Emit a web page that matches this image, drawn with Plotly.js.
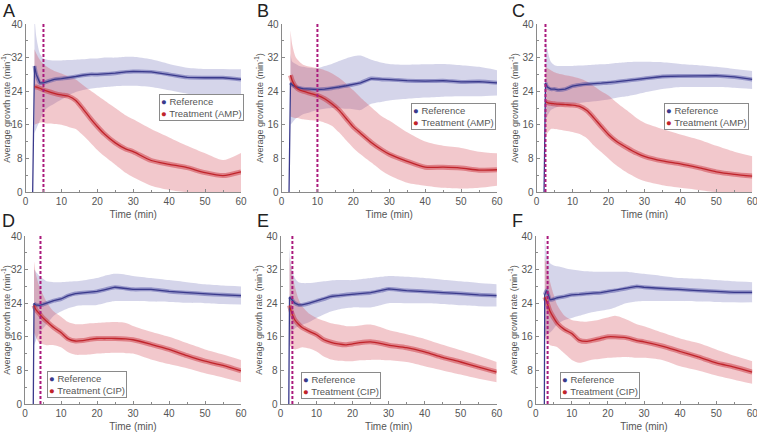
<!DOCTYPE html>
<html>
<head>
<meta charset="utf-8">
<script src="https://cdn.plot.ly/plotly-3.0.1.min.js"></script>
<style>html,body{margin:0;padding:0;background:#fff;}#chart{width:757px;height:433px;}</style>
</head>
<body>
<div id="chart"></div>
<script>
// ---- data ----
const T = [2.5, 3, 4, 5, 6, 8, 10, 12, 14, 16, 18, 20, 22, 25, 28, 30, 35, 40, 45, 50, 55, 60];
const panelLetters = ['A', 'B', 'C', 'D', 'E', 'F'];
const treatmentNames = ['Treatment (AMP)', 'Treatment (AMP)', 'Treatment (AMP)', 'Treatment (CIP)', 'Treatment (CIP)', 'Treatment (CIP)'];
const riseT = [2.0, 2.1, 2.1, 2.3, 2.3, 2.4];   // time where reference trace starts (from 0)
const dashT = [5, 10, 2.5, 4.3, 3.3, 3.3];     // treatment onset (dotted line)

const refMeanA = [30, 28, 26, 26, 26.3, 26.8, 27, 27.2, 27.5, 27.8, 28, 28, 28.1, 28.3, 28.6, 28.7, 28.6, 28, 27.3, 27.2, 27.2, 26.8];
const refHiA   = [42, 37, 33, 31.8, 31.5, 31.3, 31.3, 31.4, 31.5, 31.6, 31.8, 31.8, 32, 32, 32.2, 32.2, 31.6, 30.5, 29.6, 29.3, 29.3, 29.2];
const refLoA   = [14, 15, 17, 19, 20, 21, 22, 23, 23.8, 24.3, 24.6, 24.8, 25, 25.2, 25.3, 25.3, 25, 24.2, 23.4, 22.8, 22.8, 23];
const trtMeanA = [25, 25, 24.7, 24.3, 24, 23.5, 23.1, 22.8, 21.8, 19.8, 17.6, 15.6, 13.8, 11.7, 10.2, 9.6, 7.5, 6.6, 5.8, 4.6, 3.9, 4.8];
const trtHiA   = [34, 33, 31.5, 30.5, 29.8, 28.8, 28.2, 27.5, 26.8, 25.5, 24.2, 23, 21.8, 20, 18.2, 17.3, 15, 13, 11, 9.2, 7.6, 9.3];
const trtLoA   = [16, 16.2, 16.5, 16.5, 16.3, 16.2, 16, 15.5, 15, 13.5, 11.8, 10, 8.5, 6.5, 4.5, 3.5, 1.5, 0.5, 0, 0, 0, 0];

const refMeanB = [26, 25.5, 25, 24.8, 24.6, 24.5, 24.4, 24.5, 24.7, 25, 25.3, 25.6, 26, 27, 26.8, 26.8, 26.5, 26.4, 26.5, 26.2, 26.3, 26];
const refHiB   = [33, 31, 30.5, 30, 29.8, 29.5, 29.5, 30, 30.5, 31.2, 31.8, 32.3, 32.5, 31.5, 30.8, 30.5, 30.3, 30.4, 30.5, 30.2, 29.8, 29];
const refLoB   = [16, 16.5, 17.5, 18, 18.5, 19, 19.5, 19.8, 20, 20, 19.8, 19.7, 19.5, 21, 21.5, 21.8, 22.2, 22.5, 22.7, 22.8, 22.8, 23];
const trtMeanB = [27.8, 26.5, 25, 24.3, 24, 23.5, 23, 22.2, 21, 19.5, 17.5, 15.5, 14, 11.8, 10, 9, 7.3, 5.9, 5.9, 5.7, 5.2, 5.3];
const trtHiB   = [38.5, 35, 32, 31, 30.3, 29.8, 29.5, 29, 28.3, 27.2, 25.8, 24.2, 22.5, 20.2, 18, 17, 14.2, 12, 11, 10.5, 9.6, 9.2];
const trtLoB   = [18, 17.8, 17.6, 17.5, 17.3, 17.1, 17, 16.5, 15.8, 14.2, 12.3, 10.5, 9, 7, 5, 4, 2.2, 1.5, 1, 0.8, 1, 1.5];

const refMeanC = [26, 25, 24.5, 24.5, 24.3, 24.5, 25.2, 25.5, 25.7, 25.8, 25.9, 26, 26.2, 26.5, 26.8, 27, 27.5, 27.6, 27.6, 27.7, 27.4, 26.8];
const refHiC   = [37, 34, 31, 30.2, 30, 30, 30, 30.1, 30.2, 30.3, 30.4, 30.5, 30.7, 30.9, 31, 31, 30.9, 30.5, 30.2, 29.8, 29.3, 28.8];
const refLoC   = [17, 18, 19.5, 20, 20.3, 20.7, 21, 21.2, 21.4, 21.6, 21.8, 22, 22.4, 22.8, 23.3, 23.7, 24.5, 25, 25, 25, 24.8, 24.5];
const trtMeanC = [21.5, 21.3, 21.1, 21, 20.9, 20.8, 20.7, 20.4, 19.4, 17.6, 15.6, 13.7, 12.2, 10.6, 9.2, 8.5, 7.4, 6.7, 5.8, 4.8, 4.2, 3.8];
const trtHiC   = [30, 29.5, 29, 28.5, 28.2, 27.8, 27.5, 27, 26.3, 25.2, 24, 23, 21.5, 19.5, 17.5, 16.5, 15, 13.7, 12.5, 11, 9.6, 8.5];
const trtLoC   = [13, 14, 15, 15, 14.9, 14.6, 14.3, 13.8, 12.8, 11, 9.5, 8, 6.5, 4.7, 3.3, 2.6, 1.6, 1, 0.5, 0, 0, 0];

const refMeanD = [24, 23.6, 23.5, 23.7, 24, 24.6, 25, 25.8, 26.3, 26.5, 26.6, 26.8, 27.2, 27.8, 27.5, 27.3, 27.3, 26.8, 26.5, 26.2, 26, 25.8];
const refHiD   = [32, 31.5, 30.5, 29.8, 29.2, 29, 29, 29.1, 29.2, 29.4, 29.7, 30, 30.5, 31, 30.8, 30.5, 30, 29.5, 29, 28.5, 28.2, 28];
const refLoD   = [14, 15, 17, 18, 19, 21, 22, 22.8, 23.3, 23.5, 23.5, 23.6, 24, 24.5, 24.5, 24.5, 24.4, 24.3, 24.1, 24, 23.8, 23.7];
const trtMeanD = [23.5, 22.5, 21.5, 20.5, 19.7, 18.2, 17, 15.5, 15, 15.1, 15.4, 15.6, 15.6, 15.6, 15.5, 15.3, 14.2, 13, 11.5, 10.2, 9.2, 7.9];
const trtHiD   = [34, 31, 28, 26, 24.3, 22, 20.8, 19.5, 19, 19, 19.2, 19.3, 19.4, 19.5, 19.3, 18.6, 17.2, 16, 14.5, 13, 11.8, 10.5];
const trtLoD   = [17, 16, 14.5, 14.2, 14, 14, 13.5, 12.3, 11.7, 11.7, 11.8, 12, 12.1, 12.2, 12.1, 12, 10.6, 9.5, 8.5, 7.3, 6.3, 5.2];

const refMeanE = [25.5, 25, 24, 23.6, 23.6, 24, 24.5, 25, 25.6, 25.8, 26, 26.2, 26.3, 26.5, 27, 27.4, 27, 26.8, 26.5, 26.3, 26, 25.8];
const refHiE   = [37, 33, 30, 29, 28.8, 28.8, 29, 29.2, 29.4, 29.5, 29.5, 29.5, 29.7, 30, 30.3, 30.5, 30.3, 30, 29.6, 29.2, 28.8, 28.5];
const refLoE   = [13.5, 17, 18, 18.5, 18.8, 19.5, 20.5, 21.3, 22, 22.5, 22.8, 23, 23, 23, 23.6, 24, 24, 24, 23.8, 23.5, 23.3, 23.2];
const trtMeanE = [23.5, 22, 20, 19, 18.2, 17.3, 16.5, 15.3, 14.7, 14.3, 14.1, 14.3, 14.6, 14.8, 14.4, 14, 13.4, 12.4, 11.1, 10, 8.8, 7.6];
const trtHiE   = [35, 32, 28, 25, 23.3, 21.5, 20.5, 19.8, 19.2, 18.9, 18.6, 18.5, 18.7, 18.9, 18.2, 17.6, 16.6, 15.5, 14.1, 12.8, 11.5, 10];
const trtLoE   = [14, 13.5, 13, 13.2, 13.5, 13.2, 12.5, 11.3, 10.6, 10.3, 10.2, 10.2, 10.4, 10.5, 10.5, 10.4, 10, 9, 8, 7, 6, 5.2];

const refMeanF = [26, 27, 24.8, 25, 25.3, 25.6, 26, 26.1, 26.3, 26.4, 26.5, 26.8, 27, 27.5, 28, 27.8, 27.5, 27.3, 27, 26.8, 26.6, 26.6];
const refHiF   = [40, 36, 33.5, 33, 32.8, 32.4, 32, 31.8, 31.6, 31.5, 31.5, 31.5, 31.5, 31.5, 31.2, 31, 30.5, 30, 29.8, 29.5, 29.2, 29];
const refLoF   = [16, 16.5, 17, 18, 19, 20, 20.5, 21, 21.5, 21.9, 22.2, 22.5, 23, 24, 24.4, 24.5, 24.5, 24.5, 24.4, 24.3, 24.2, 24.2];
const trtMeanF = [25.5, 24.5, 22, 20.5, 19.2, 17.7, 16.8, 15.2, 14.9, 15.2, 15.6, 16, 16, 15.8, 15.1, 14.8, 13.8, 12.5, 11.2, 9.8, 8.8, 7.6];
const trtHiF   = [35, 33, 29, 26, 23.5, 21, 20, 19.7, 19.6, 19.8, 20.2, 20.6, 21, 20.2, 19, 18.5, 17, 15.6, 14.5, 13, 11.5, 10.2];
const trtLoF   = [16, 15, 14, 13.8, 13.5, 12, 10.5, 9.8, 10.2, 10.6, 10.8, 11, 11.1, 11.2, 11, 11, 10.5, 9, 8, 6.8, 5.8, 4.8];

const refMeans = [refMeanA, refMeanB, refMeanC, refMeanD, refMeanE, refMeanF];
const refHis   = [refHiA, refHiB, refHiC, refHiD, refHiE, refHiF];
const refLos   = [refLoA, refLoB, refLoC, refLoD, refLoE, refLoF];
const trtMeans = [trtMeanA, trtMeanB, trtMeanC, trtMeanD, trtMeanE, trtMeanF];
const trtHis   = [trtHiA, trtHiB, trtHiC, trtHiD, trtHiE, trtHiF];
const trtLos   = [trtLoA, trtLoB, trtLoC, trtLoD, trtLoE, trtLoF];

// ---- style / layout ----
const W = 757, H = 433;
const COL = {
  refLine: '#3a3a8c', refBand: 'rgba(115,115,185,0.30)', refSem: 'rgba(70,70,160,0.45)',
  trtLine: '#c0242b', trtBand: 'rgba(212,72,85,0.30)', trtSem: 'rgba(200,40,50,0.45)',
  dash: '#aa1a7c', axis: '#8a8a8a', text: '#555555'
};
// plot boxes in pixels: [left, right, top, bottom]
const boxes = [
  [25.5, 241, 24, 192], [281.5, 497, 24, 192], [536.5, 752.3, 24, 192],
  [25, 241, 236, 404], [280.5, 496.7, 236, 404], [535.7, 752.3, 236, 404]
];
const legendPos = [[159, 94], [411, 103], [664, 103], [47, 371], [301, 372], [560, 372]];
const letterPos = [[1, -1], [255, -1], [510, -1], [0, 209], [255, 209], [510, 209]];

const traces = [];
const layout = {
  width: W, height: H, margin: {l: 0, r: 0, t: 0, b: 0},
  paper_bgcolor: '#fff', plot_bgcolor: '#fff', showlegend: false,
  font: {family: 'Liberation Sans, Arial, sans-serif', color: COL.text, size: 10},
  annotations: [], shapes: []
};

for (let p = 0; p < 6; p++) {
  const sfx = p === 0 ? '' : String(p + 1);
  const xa = 'x' + sfx, ya = 'y' + sfx;
  const sp = {xaxis: xa, yaxis: ya, hoverinfo: 'skip', showlegend: false};
  const spl = {shape: 'spline', smoothing: 0.7};

  // reference SD band
  traces.push(Object.assign({x: T, y: refLos[p], mode: 'lines', line: Object.assign({width: 0, color: COL.refBand}, spl)}, sp));
  traces.push(Object.assign({x: T, y: refHis[p], mode: 'lines', fill: 'tonexty', fillcolor: COL.refBand, line: Object.assign({width: 0, color: COL.refBand}, spl)}, sp));
  // treatment SD band
  traces.push(Object.assign({x: T, y: trtLos[p], mode: 'lines', line: Object.assign({width: 0, color: COL.trtBand}, spl)}, sp));
  traces.push(Object.assign({x: T, y: trtHis[p], mode: 'lines', fill: 'tonexty', fillcolor: COL.trtBand, line: Object.assign({width: 0, color: COL.trtBand}, spl)}, sp));
  // SEM-like halo around means
  traces.push(Object.assign({x: T, y: refMeans[p], mode: 'lines', line: Object.assign({width: 4, color: COL.refSem}, spl)}, sp));
  traces.push(Object.assign({x: T, y: trtMeans[p], mode: 'lines', line: Object.assign({width: 5, color: COL.trtSem}, spl)}, sp));
  // reference mean (starts from 0 at riseT)
  traces.push(Object.assign({x: [riseT[p]].concat(T), y: [0].concat(refMeans[p]), mode: 'lines', line: {width: 1.3, color: COL.refLine}}, sp));
  // treatment mean
  traces.push(Object.assign({x: T, y: trtMeans[p], mode: 'lines', line: Object.assign({width: 1.3, color: COL.trtLine}, spl)}, sp));
  // treatment onset
  traces.push(Object.assign({x: [dashT[p], dashT[p]], y: [0, 40], mode: 'lines', line: {width: 2, color: COL.dash, dash: '3px,2px'}}, sp));

  const b = boxes[p];
  const axCommon = {
    showline: true, linecolor: COL.axis, linewidth: 1, mirror: false,
    showgrid: false, zeroline: false, ticks: 'inside', ticklen: 3, tickcolor: COL.axis,
    tickfont: {size: 10, color: COL.text}, ticklabeloverflow: 'allow'
  };
  layout['xaxis' + sfx] = Object.assign({}, axCommon, {
    domain: [b[0] / W, b[1] / W], range: [0, 60], dtick: 10, tick0: 0, anchor: ya,
    minor: {dtick: 5, ticks: 'inside', ticklen: 2, tickcolor: COL.axis},
    title: {text: 'Time (min)', font: {size: 10, color: COL.text}, standoff: 4}
  });
  layout['yaxis' + sfx] = Object.assign({}, axCommon, {
    domain: [1 - b[3] / H, 1 - b[2] / H], range: [0, 40], dtick: 8, tick0: 0, anchor: xa,
    minor: {dtick: 4, ticks: 'inside', ticklen: 2, tickcolor: COL.axis},
    title: {text: 'Average growth rate (min<sup>-1</sup>)', font: {size: 9, color: COL.text}, standoff: 2}
  });

  // legend box
  const lp = legendPos[p];
  layout.annotations.push({
    xref: 'paper', yref: 'paper', x: lp[0] / W, y: 1 - lp[1] / H, xanchor: 'left', yanchor: 'top',
    align: 'left', showarrow: false, bgcolor: '#fff', bordercolor: '#8a8a8a', borderwidth: 1, borderpad: 1,
    font: {size: 9.5, color: COL.text},
    text: '<span style="color:' + COL.refLine + '">\u25CF</span> Reference<br>' +
          '<span style="color:' + COL.trtLine + '">\u25CF</span> ' + treatmentNames[p]
  });
  // panel letter
  const lt = letterPos[p];
  layout.annotations.push({
    xref: 'paper', yref: 'paper', x: lt[0] / W, y: 1 - lt[1] / H, xanchor: 'left', yanchor: 'top',
    showarrow: false, text: panelLetters[p], font: {size: 18, color: '#222'}
  });
}

Plotly.newPlot('chart', traces, layout, {displayModeBar: false, staticPlot: true});
</script>
</body>
</html>
